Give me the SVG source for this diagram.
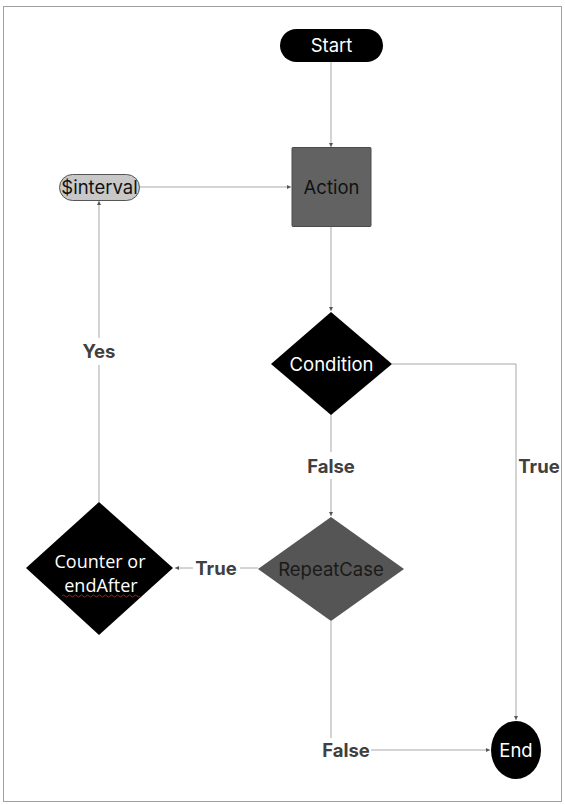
<svg xmlns="http://www.w3.org/2000/svg" width="565" height="805" viewBox="0 0 565 805">
<defs>
<marker id="ah" viewBox="0 0 6 6" refX="6" refY="3" markerWidth="4" markerHeight="4" orient="auto">
<path d="M0,0 L6,3 L0,6 z" fill="#555"/>
</marker>
<style>
.ln{fill:none;stroke:#a8a8a8;stroke-width:1}
.lbl{font-family:Inter,"Liberation Sans",sans-serif;font-weight:bold;font-size:18.5px;fill:#404040;text-anchor:middle}
.t{font-family:Inter,"Liberation Sans",sans-serif;font-size:18.5px;text-anchor:middle}
</style>
</defs>
<rect x="3.5" y="6.5" width="558" height="795" fill="#fff" stroke="#a0a0a0" stroke-width="1"/>
<g id="connectors">
<path class="ln" d="M331,62 L331,147" marker-end="url(#ah)"/>
<path class="ln" d="M139,187 L291,187" marker-end="url(#ah)"/>
<path class="ln" d="M331,226 L331,311" marker-end="url(#ah)"/>
<path class="ln" d="M392,364 L516,364 L516,720" marker-end="url(#ah)"/>
<path class="ln" d="M331,414 L331,452"/>
<path class="ln" d="M331,479 L331,516" marker-end="url(#ah)"/>
<path class="ln" d="M258,568 L240,568"/>
<path class="ln" d="M193,568 L175,568" marker-end="url(#ah)"/>
<path class="ln" d="M99,502 L99,365"/>
<path class="ln" d="M99,338 L99,201" marker-end="url(#ah)"/>
<path class="ln" d="M331,621 L331,738"/>
<path class="ln" d="M371,750 L490,750" marker-end="url(#ah)"/>
<text class="lbl" x="539" y="473">True</text>
<text class="lbl" x="331" y="473">False</text>
<text class="lbl" x="216" y="575">True</text>
<text class="lbl" x="99" y="358">Yes</text>
<text class="lbl" x="346" y="757">False</text>
</g>
<g id="start">
<rect x="280" y="29" width="103" height="33" rx="16.5" fill="#000"/>
<text class="t" x="331.5" y="52" fill="#fff">Start</text>
</g>
<g id="action">
<rect x="292" y="147.5" width="79" height="79" rx="1" fill="#626262" stroke="#4a4a4a" stroke-width="1"/>
<text class="t" x="331.5" y="194" fill="#111" font-size="20">Action</text>
</g>
<g id="interval">
<rect x="59.5" y="174.5" width="80" height="26" rx="13" fill="#c8c8c8" stroke="#555" stroke-width="1"/>
<text class="t" x="99.5" y="194" fill="#111">$interval</text>
</g>
<g id="condition">
<polygon points="331,312 392,364 331,415 271,364" fill="#000"/>
<text class="t" x="331.5" y="370.5" fill="#fff">Condition</text>
</g>
<g id="repeatcase">
<polygon points="331,517 404,569 331,621 258,569" fill="#555"/>
<text class="t" x="331" y="575.5" fill="#1a1a1a">RepeatCase</text>
</g>
<g id="counter">
<polygon points="99,502 173,568 99,635 26,568" fill="#000"/>
<text x="100" y="568" fill="#fff" font-family="'Open Sans','Liberation Sans',sans-serif" font-size="18" text-anchor="middle">Counter or</text>
<text x="101" y="592" fill="#fff" font-family="'Open Sans','Liberation Sans',sans-serif" font-size="18" text-anchor="middle">endAfter</text>
<path d="M62,596 q1.5,-2 3,0 t3,0 t3,0 t3,0 t3,0 t3,0 t3,0 t3,0 t3,0 t3,0 t3,0 t3,0 t3,0 t3,0 t3,0 t3,0 t3,0 t3,0 t3,0 t3,0 t3,0 t3,0 t3,0 t3,0 t3,0 t3,0" fill="none" stroke="#d02020" stroke-width="0.8"/>
</g>
<g id="end">
<ellipse cx="516" cy="750" rx="25" ry="29" fill="#000"/>
<text class="t" x="516" y="757" fill="#fff">End</text>
</g>
</svg>
